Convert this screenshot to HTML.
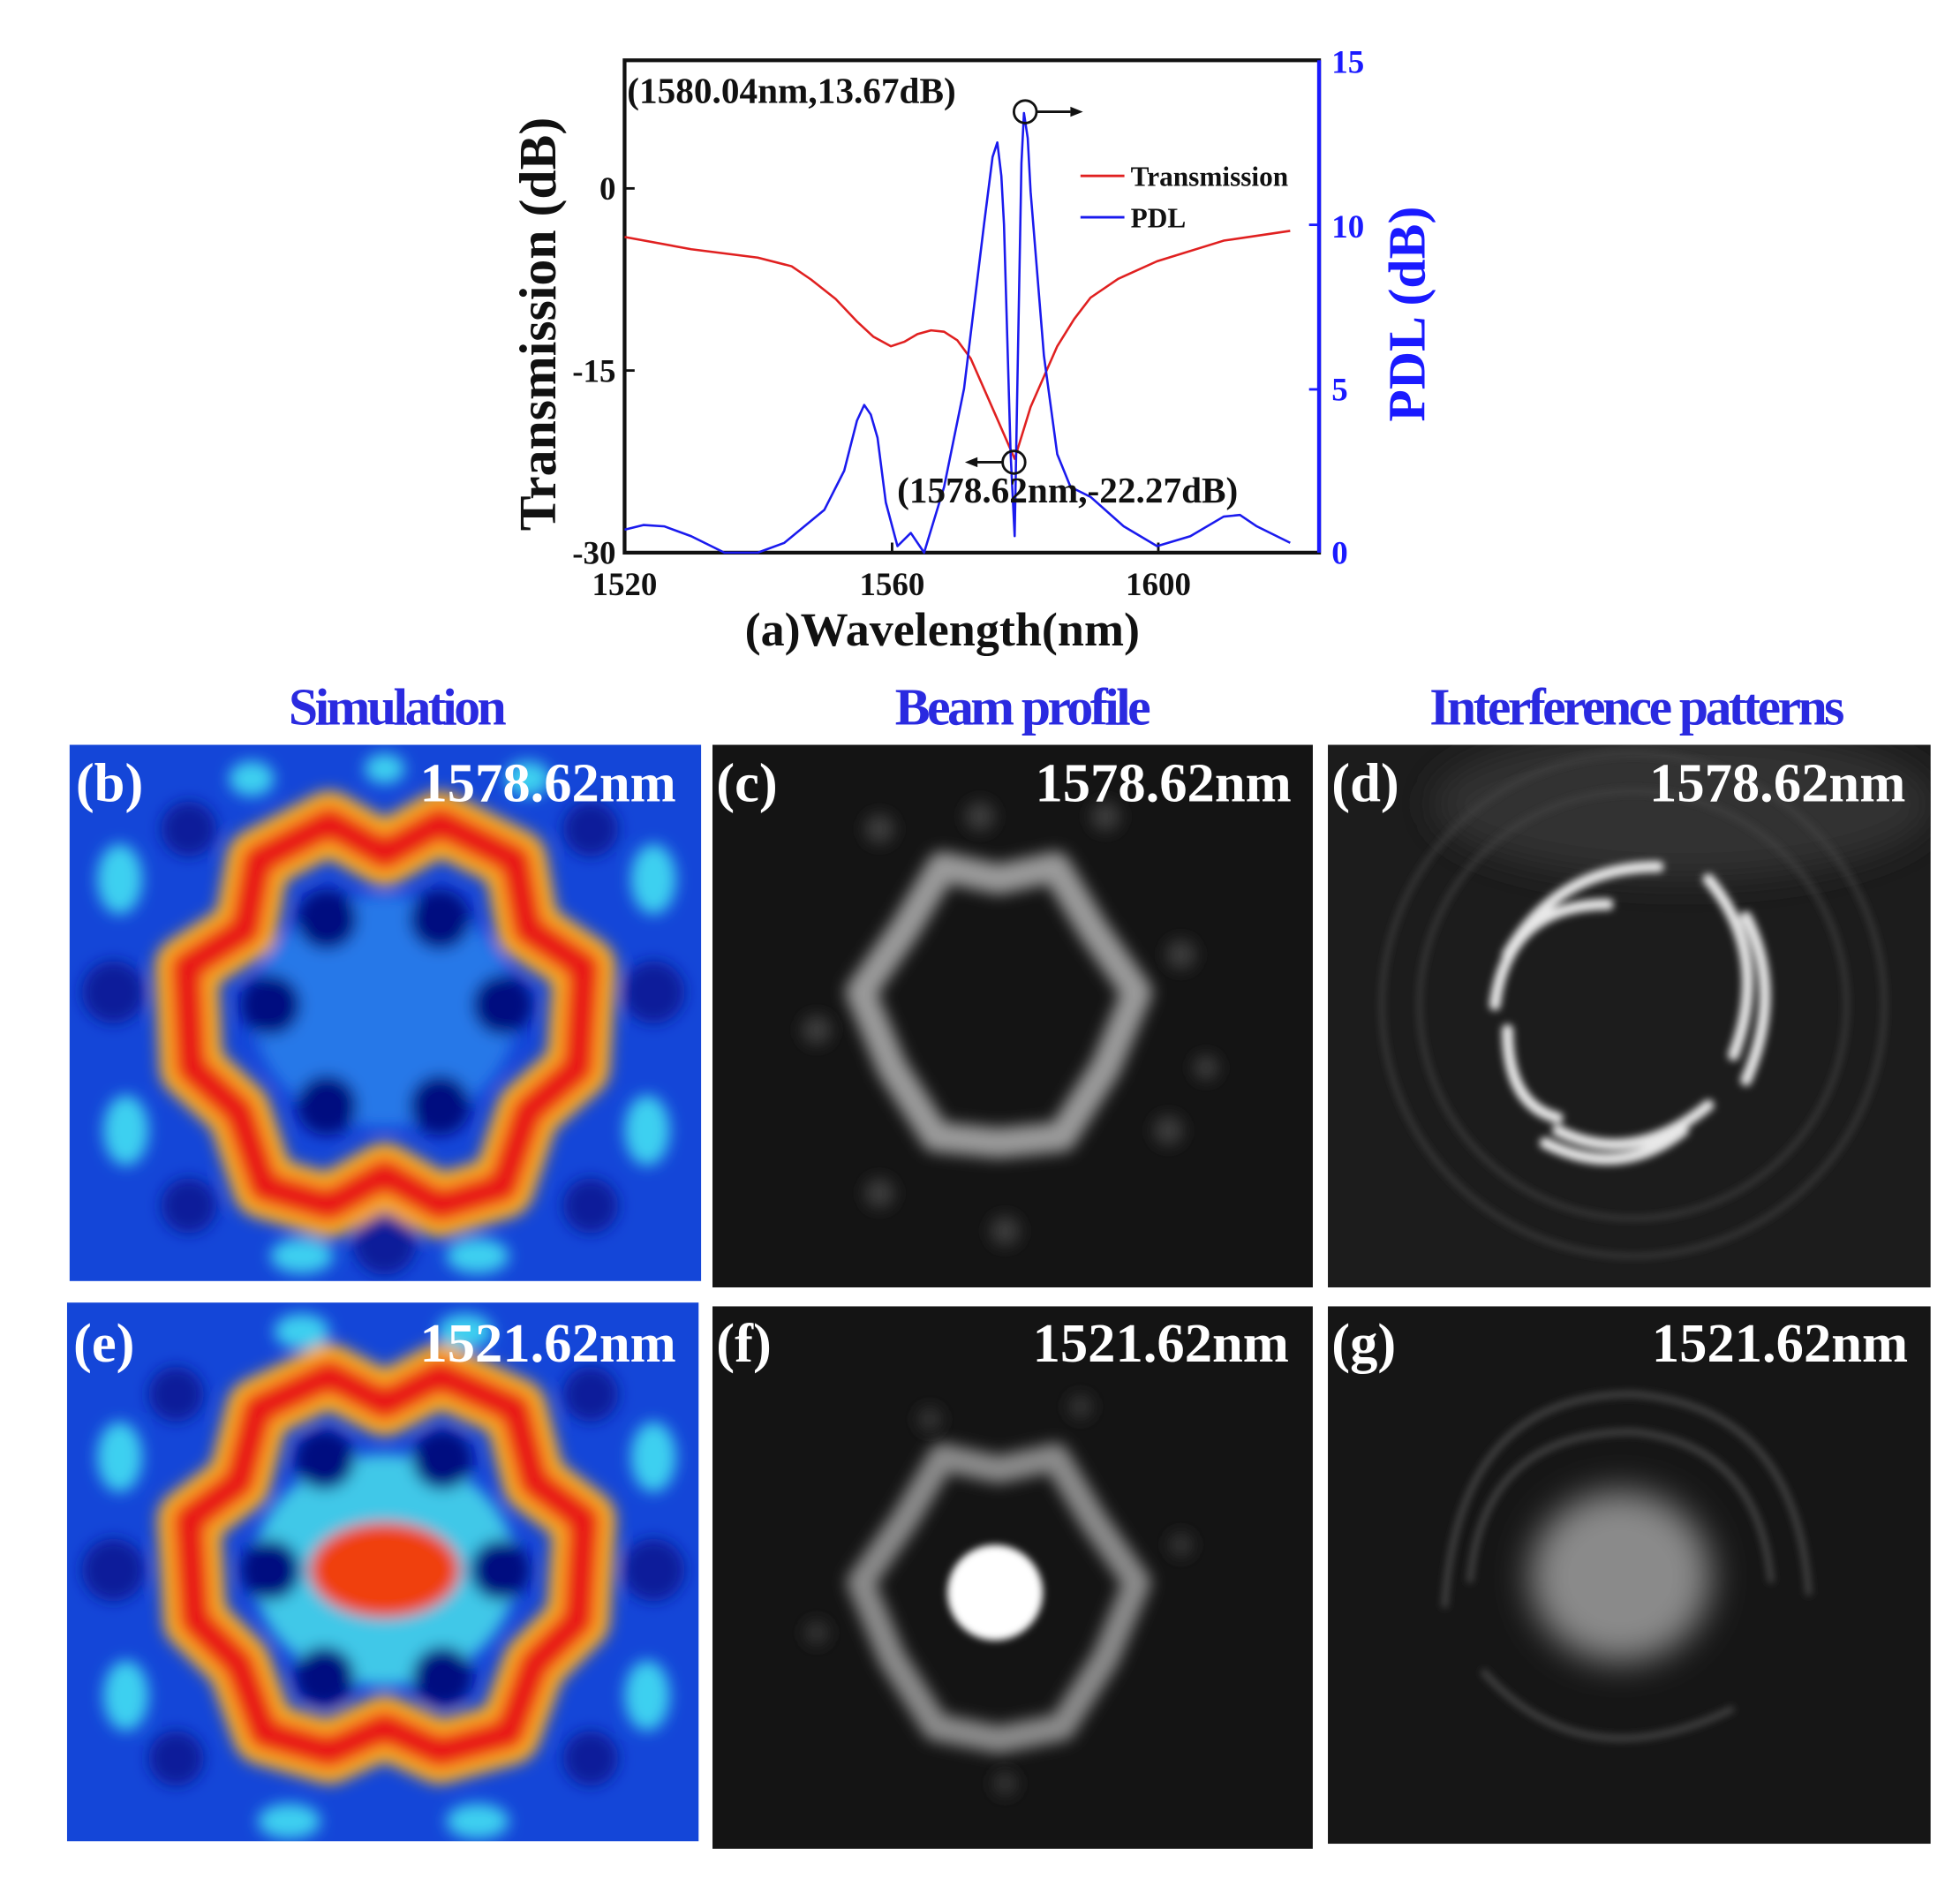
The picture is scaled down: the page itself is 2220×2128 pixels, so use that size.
<!DOCTYPE html>
<html><head><meta charset="utf-8"><style>html,body{margin:0;padding:0;background:#fff}svg{display:block}</style></head>
<body>
<svg width="2220" height="2128" viewBox="0 0 1560 1496" xmlns="http://www.w3.org/2000/svg" font-family="Liberation Serif, serif">
<defs>
<filter id="b6" x="-20%" y="-20%" width="140%" height="140%"><feGaussianBlur stdDeviation="6"/></filter>
<filter id="b3" x="-20%" y="-20%" width="140%" height="140%"><feGaussianBlur stdDeviation="3"/></filter>
<filter id="b12" x="-50%" y="-50%" width="200%" height="200%"><feGaussianBlur stdDeviation="14"/></filter>
<clipPath id="cb"><rect x="55" y="593" width="503" height="427"/></clipPath>
<clipPath id="ce"><rect x="53" y="1037" width="503" height="429"/></clipPath>
<clipPath id="cc"><rect x="567" y="593" width="478" height="432"/></clipPath>
<clipPath id="cf"><rect x="567" y="1040" width="478" height="432"/></clipPath>
<clipPath id="cd"><rect x="1057" y="593" width="480" height="432"/></clipPath>
<clipPath id="cg"><rect x="1057" y="1040" width="480" height="428"/></clipPath>
</defs>
<rect width="1560" height="1496" fill="#fff"/>

<g font-weight="bold">
<rect x="497" y="48" width="553" height="392" fill="none" stroke="#111" stroke-width="3"/>
<line x1="1050" y1="48" x2="1050" y2="440" stroke="#1a1aff" stroke-width="3"/>
<g stroke="#111" stroke-width="2"><line x1="497" y1="150" x2="505" y2="150"/><line x1="497" y1="295" x2="505" y2="295"/><line x1="710" y1="440" x2="710" y2="432"/><line x1="922" y1="440" x2="922" y2="432"/></g>
<g stroke="#1a1aff" stroke-width="2"><line x1="1050" y1="179" x2="1042" y2="179"/><line x1="1050" y1="310" x2="1042" y2="310"/></g>
<g font-size="26" fill="#111" text-anchor="end"><text x="490" y="159">0</text><text x="490" y="304">-15</text><text x="490" y="449">-30</text></g>
<g font-size="26" fill="#111" text-anchor="middle"><text x="497" y="474">1520</text><text x="710" y="474">1560</text><text x="922" y="474">1600</text></g>
<g font-size="26" fill="#1a1aff"><text x="1060" y="58">15</text><text x="1060" y="189">10</text><text x="1060" y="319">5</text><text x="1060" y="449">0</text></g>
<text transform="translate(442,258) rotate(-90)" font-size="42" text-anchor="middle" fill="#111">Transmission (dB)</text>
<text transform="translate(1134,250) rotate(-90)" font-size="42" text-anchor="middle" fill="#1a1aff">PDL (dB)</text>
<text x="750" y="514" font-size="38" text-anchor="middle" fill="#111">(a)Wavelength(nm)</text>
<polyline fill="none" stroke="#e02020" stroke-width="1.8" stroke-linejoin="round" points="497,188.7 550,198.4 603,205.1 630,212 645.4,222.5 665,238 682.5,256.4 695,268 709,275.7 720,272 730.2,266 741,263 751.4,264.1 762,271 772.6,285.4 793.8,333.7 807.6,365.3 820.3,324 841.5,275.7 855,254 868,237 890,222 921,208 974,191.6 1027,183.8"/>
<polyline fill="none" stroke="#1a1aee" stroke-width="1.8" stroke-linejoin="round" points="497,421.7 512,418 528.8,419.1 550,426.9 576.5,440 603,440 624.2,432.2 656,406 671.9,374.7 682,335 687.8,322.4 693,330 698.4,348.5 705,400 714.3,434.8 724.9,424.3 735.5,440 751.4,387.7 767.3,309.4 783.2,178.7 790,125 793.8,113.4 797,140 799.1,178.7 804.4,361.6 807.6,426.9 809.7,309.4 813,130 815,90 818,110 820.3,152.6 830.9,283.2 841.5,361.6 852.1,387.7 868,395.6 894.5,419.1 921,434.8 947.5,426.9 974,411.3 987,410 1000.5,419.1 1027,432.2"/>
<line x1="860" y1="140" x2="895" y2="140" stroke="#e02020" stroke-width="2"/>
<line x1="860" y1="173" x2="895" y2="173" stroke="#1a1aee" stroke-width="2"/>
<text x="900" y="148" font-size="22" fill="#111">Transmission</text>
<text x="900" y="181" font-size="22" fill="#111">PDL</text>
<text x="499" y="82" font-size="29" fill="#111">(1580.04nm,13.67dB)</text>
<text x="714" y="400" font-size="29" fill="#111">(1578.62nm,-22.27dB)</text>
<circle cx="816" cy="89" r="9" fill="none" stroke="#111" stroke-width="2"/>
<line x1="825" y1="89" x2="852" y2="89" stroke="#111" stroke-width="2"/><path d="M852,85 L862,89 L852,93Z" fill="#111"/>
<circle cx="807" cy="368" r="9" fill="none" stroke="#111" stroke-width="2"/>
<line x1="798" y1="368" x2="776" y2="368" stroke="#111" stroke-width="2"/><path d="M778,364 L768,368 L778,372Z" fill="#111"/>
</g>

<g font-size="42" font-weight="bold" fill="#2a2ae0" text-anchor="middle" letter-spacing="-2.5">
<text x="315" y="577">Simulation</text><text x="813" y="577">Beam profile</text><text x="1302" y="577">Interference patterns</text>
</g>

<g clip-path="url(#cb)">
<rect x="55" y="593" width="503" height="427" fill="#1446d8"/>
<g filter="url(#b6)">
<g fill="#0a1a9a"><circle cx="90" cy="790" r="25"/><circle cx="520" cy="790" r="25"/><circle cx="150" cy="660" r="22"/><circle cx="470" cy="660" r="22"/><circle cx="150" cy="960" r="22"/><circle cx="470" cy="960" r="22"/><circle cx="306" cy="990" r="25"/></g>
<g fill="#3cd0f0"><ellipse cx="95" cy="700" rx="18" ry="28"/><ellipse cx="520" cy="700" rx="18" ry="28"/><ellipse cx="100" cy="900" rx="18" ry="28"/><ellipse cx="515" cy="900" rx="18" ry="28"/><ellipse cx="240" cy="1000" rx="25" ry="14"/><ellipse cx="380" cy="1000" rx="25" ry="14"/><ellipse cx="200" cy="620" rx="18" ry="14"/><ellipse cx="420" cy="620" rx="18" ry="14"/><ellipse cx="306" cy="612" rx="16" ry="12"/></g>
<path d="M306,680 L350,655 L410,685 L420,740 L465,770 L460,850 L420,885 L400,945 L350,960 L306,935 L262,960 L210,945 L190,885 L152,850 L148,770 L195,740 L205,685 L262,655Z" fill="none" stroke="#ffb020" stroke-width="50" stroke-linejoin="round"/>
<path d="M306,680 L350,655 L410,685 L420,740 L465,770 L460,850 L420,885 L400,945 L350,960 L306,935 L262,960 L210,945 L190,885 L152,850 L148,770 L195,740 L205,685 L262,655Z" fill="none" stroke="#e81818" stroke-width="26" stroke-linejoin="round"/>
<ellipse cx="306" cy="805" rx="105" ry="92" fill="#2878e8"/>
<g fill="#000c80"><circle cx="260" cy="732" r="24"/><circle cx="350" cy="732" r="24"/><circle cx="215" cy="800" r="24"/><circle cx="400" cy="800" r="24"/><circle cx="260" cy="880" r="24"/><circle cx="350" cy="880" r="24"/></g>
</g>
</g>
<g clip-path="url(#ce)">
<rect x="53" y="1037" width="503" height="429" fill="#1446d8"/>
<g filter="url(#b6)">
<g fill="#0a1a9a"><circle cx="90" cy="1250" r="25"/><circle cx="520" cy="1250" r="25"/><circle cx="140" cy="1110" r="22"/><circle cx="470" cy="1110" r="22"/><circle cx="140" cy="1400" r="22"/><circle cx="470" cy="1400" r="22"/></g>
<g fill="#3cd0f0"><ellipse cx="95" cy="1160" rx="18" ry="28"/><ellipse cx="520" cy="1160" rx="18" ry="28"/><ellipse cx="100" cy="1350" rx="18" ry="28"/><ellipse cx="515" cy="1350" rx="18" ry="28"/><ellipse cx="230" cy="1450" rx="25" ry="14"/><ellipse cx="380" cy="1450" rx="25" ry="14"/><ellipse cx="240" cy="1060" rx="22" ry="14"/><ellipse cx="370" cy="1060" rx="22" ry="14"/></g>
<path d="M306,1118 L350,1095 L410,1122 L425,1180 L465,1210 L460,1290 L425,1325 L405,1380 L350,1395 L306,1375 L262,1395 L210,1380 L190,1325 L155,1290 L150,1210 L190,1180 L205,1122 L262,1095Z" fill="none" stroke="#ffb020" stroke-width="50" stroke-linejoin="round"/>
<path d="M306,1118 L350,1095 L410,1122 L425,1180 L465,1210 L460,1290 L425,1325 L405,1380 L350,1395 L306,1375 L262,1395 L210,1380 L190,1325 L155,1290 L150,1210 L190,1180 L205,1122 L262,1095Z" fill="none" stroke="#e81818" stroke-width="26" stroke-linejoin="round"/>
<ellipse cx="306" cy="1250" rx="105" ry="92" fill="#40c8e8"/>
<ellipse cx="306" cy="1250" rx="60" ry="38" fill="#f04010"/>
<g fill="#000c80"><circle cx="258" cy="1162" r="24"/><circle cx="352" cy="1162" r="24"/><circle cx="215" cy="1250" r="24"/><circle cx="398" cy="1250" r="24"/><circle cx="258" cy="1335" r="24"/><circle cx="352" cy="1335" r="24"/></g>
</g>
</g>

<g clip-path="url(#cc)">
<rect x="567" y="593" width="478" height="432" fill="#141414"/>
<path d="M795,700 L840,690 L870,740 L905,790 L880,850 L845,905 L795,910 L745,905 L710,850 L685,790 L720,740 L750,690Z" fill="none" stroke="#9a9a9a" stroke-width="24" stroke-linejoin="round" filter="url(#b6)"/>
<g fill="#3a3a3a" filter="url(#b6)"><circle cx="700" cy="660" r="12"/><circle cx="880" cy="650" r="12"/><circle cx="940" cy="760" r="12"/><circle cx="650" cy="820" r="12"/><circle cx="930" cy="900" r="12"/><circle cx="700" cy="950" r="12"/><circle cx="800" cy="980" r="12"/><circle cx="780" cy="650" r="12"/><circle cx="960" cy="850" r="10"/></g>
</g>
<g clip-path="url(#cf)">
<rect x="567" y="1040" width="478" height="432" fill="#141414"/>
<path d="M795,1170 L840,1160 L870,1210 L905,1260 L880,1320 L845,1375 L795,1385 L745,1375 L710,1320 L685,1260 L720,1210 L750,1160Z" fill="none" stroke="#8a8a8a" stroke-width="22" stroke-linejoin="round" filter="url(#b6)"/>
<g fill="#333" filter="url(#b6)"><circle cx="740" cy="1130" r="10"/><circle cx="860" cy="1120" r="10"/><circle cx="940" cy="1230" r="10"/><circle cx="650" cy="1300" r="10"/><circle cx="800" cy="1420" r="10"/></g>
<circle cx="792" cy="1268" r="38" fill="#fff" filter="url(#b3)"/>
</g>
<g clip-path="url(#cd)">
<rect x="1057" y="593" width="480" height="432" fill="#1c1c1c"/>
<ellipse cx="1340" cy="640" rx="200" ry="60" fill="#303030" filter="url(#b12)"/>
<g fill="none" stroke="#444" stroke-width="3" filter="url(#b3)"><circle cx="1300" cy="800" r="170"/><circle cx="1300" cy="800" r="200"/></g>
<g fill="none" stroke="#e8e8e8" stroke-width="9" stroke-linecap="round" filter="url(#b3)">
<path d="M1200,760 Q1240,690 1320,690"/><path d="M1190,800 Q1200,720 1280,720"/>
<path d="M1360,700 Q1410,760 1380,840"/><path d="M1390,730 Q1420,790 1390,860"/>
<path d="M1360,880 Q1300,930 1240,900"/><path d="M1340,900 Q1290,940 1230,910"/>
<path d="M1200,820 Q1200,880 1240,890"/>
</g>
</g>
<g clip-path="url(#cg)">
<rect x="1057" y="1040" width="480" height="428" fill="#161616"/>
<g fill="none" stroke="#444" stroke-width="5" filter="url(#b3)"><path d="M1170,1260 Q1180,1140 1300,1140 Q1400,1150 1410,1260"/><path d="M1150,1280 Q1160,1110 1300,1110 Q1430,1120 1440,1270"/><path d="M1180,1330 Q1260,1420 1380,1360"/></g>
<ellipse cx="1290" cy="1255" rx="72" ry="68" fill="#8a8a8a" filter="url(#b12)"/>
</g>

<g font-size="44" font-weight="bold" fill="#fff">
<text x="60" y="638">(b)</text><text x="538" y="638" text-anchor="end">1578.62nm</text>
<text x="570" y="638">(c)</text><text x="1028" y="638" text-anchor="end">1578.62nm</text>
<text x="1060" y="638">(d)</text><text x="1517" y="638" text-anchor="end">1578.62nm</text>
<text x="58" y="1084">(e)</text><text x="538" y="1084" text-anchor="end">1521.62nm</text>
<text x="570" y="1084">(f)</text><text x="1026" y="1084" text-anchor="end">1521.62nm</text>
<text x="1060" y="1084">(g)</text><text x="1519" y="1084" text-anchor="end">1521.62nm</text>
</g>
</svg>
</body></html>
